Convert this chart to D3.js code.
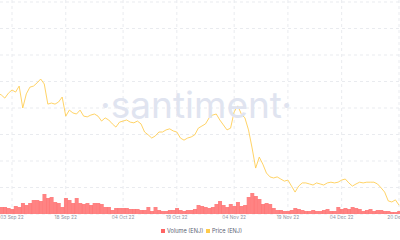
<!DOCTYPE html>
<html lang="en">
<head>
<meta charset="UTF-8">
<title>ENJ price and volume</title>
<script src="https://cdn.jsdelivr.net/npm/d3@7"></script>
<style>
  body { margin: 0; background: #fff; }
  svg { display: block; font-family: Inter, "Noto Sans", sans-serif; }
</style>
</head>
<body>
<svg width="400" height="240"></svg>
<script>
// daily series, first point 30 Aug 2022
const startDay = Date.UTC(2022, 7, 30)
const price = [
  0.542, 0.537, 0.528, 0.542, 0.551, 0.545, 0.562, 0.500, 0.540, 0.559,
  0.562, 0.571, 0.582, 0.568, 0.511, 0.514, 0.511, 0.517, 0.531, 0.477,
  0.494, 0.486, 0.483, 0.494, 0.477, 0.475, 0.480, 0.483, 0.477, 0.463,
  0.472, 0.466, 0.455, 0.446, 0.460, 0.463, 0.466, 0.460, 0.458, 0.463,
  0.455, 0.432, 0.424, 0.415, 0.421, 0.432, 0.432, 0.438, 0.441, 0.435,
  0.432, 0.415, 0.409, 0.415, 0.418, 0.424, 0.443, 0.449, 0.455, 0.472,
  0.480, 0.483, 0.466, 0.452, 0.438, 0.443, 0.489, 0.506, 0.483, 0.472,
  0.438, 0.387, 0.330, 0.361, 0.341, 0.316, 0.305, 0.302, 0.305, 0.299,
  0.293, 0.296, 0.279, 0.262, 0.279, 0.288, 0.288, 0.285, 0.282, 0.288,
  0.285, 0.282, 0.288, 0.290, 0.288, 0.290, 0.296, 0.299, 0.288, 0.279,
  0.285, 0.290, 0.288, 0.290, 0.290, 0.290, 0.285, 0.274, 0.262, 0.237,
  0.234, 0.240, 0.225
]
// volume, millions of ENJ
const volume = [
  7, 7, 7, 6, 5, 8, 7, 11, 9, 11,
  14, 14, 13, 20, 16, 17, 12, 11, 7, 16,
  14, 11, 16, 11, 10, 11, 9, 11, 11, 10,
  7, 7, 4, 6, 6, 6, 6, 5, 5, 5,
  4, 4, 7, 3, 7, 4, 3, 3, 4, 4,
  6, 4, 3, 4, 4, 5, 9, 8, 7, 6,
  7, 10, 13, 9, 7, 10, 8, 12, 8, 9,
  17, 21, 18, 15, 10, 11, 10, 6, 4, 4,
  3, 3, 4, 6, 5, 4, 3, 3, 4, 3,
  3, 4, 5, 3, 3, 7, 5, 6, 5, 7,
  6, 5, 3, 4, 5, 3, 4, 4, 3, 3,
  2, 2, 3
]
const tickDays = [
  Date.UTC(2022, 8, 3), Date.UTC(2022, 8, 18), Date.UTC(2022, 9, 4), Date.UTC(2022, 9, 19),
  Date.UTC(2022, 10, 4), Date.UTC(2022, 10, 19), Date.UTC(2022, 11, 4), Date.UTC(2022, 11, 20)
]
const priceGrid = [0.2, 0.275, 0.35, 0.425, 0.5, 0.575, 0.65, 0.725, 0.8]
const legendItems = ['Volume (ENJ)', 'Price (ENJ)']
const colors = ['#ff6464', '#ffcb4c']

const dates = price.map((d, i) => new Date(startDay + i * 864e5))

const svg = d3.select('svg')
const x = d3.scaleUtc()
  .domain([new Date(tickDays[0]), new Date(tickDays[7])])
  .range([12, 399])
const y = d3.scaleLinear().domain([0.2, 0.8]).range([214, 2])
const yv = d3.scaleLinear().domain([0, 212]).range([214, 2])

const plot = svg.append('g')

// grid
plot.append('g').selectAll('line')
  .data(priceGrid)
  .join('line')
  .attr('x1', 0).attr('x2', 400)
  .attr('y1', d => y(d)).attr('y2', d => y(d))
  .attr('stroke', '#e9ebef').attr('stroke-dasharray', '3,3')

plot.append('g').selectAll('line')
  .data(tickDays)
  .join('line')
  .attr('x1', d => x(new Date(d))).attr('x2', d => x(new Date(d)))
  .attr('y1', 0).attr('y2', 214)
  .attr('stroke', '#e9ebef').attr('stroke-dasharray', '3,3')

// watermark
svg.append('text')
  .attr('x', 196).attr('y', 118)
  .attr('text-anchor', 'middle')
  .attr('font-size', 37)
  .attr('fill', '#e0e4f0')
  .text('\u00b7santiment\u00b7')

// volume bars
const bw = x(new Date(startDay + 864e5)) - x(new Date(startDay))
plot.append('g').selectAll('rect')
  .data(volume)
  .join('rect')
  .attr('x', (d, i) => x(dates[i]) - bw / 2)
  .attr('width', bw + 0.4)
  .attr('y', d => yv(d))
  .attr('height', d => yv(0) - yv(d))
  .attr('fill', colors[0])
  .attr('opacity', 0.8)

// price line
plot.append('path')
  .datum(price)
  .attr('fill', 'none')
  .attr('stroke', colors[1])
  .attr('stroke-width', 1)
  .attr('stroke-opacity', 0.85)
  .attr('d', d3.line().x((d, i) => x(dates[i])).y(d => y(d)))

// x axis labels
const fmt = d3.utcFormat('%d %b %y')
svg.append('g').selectAll('text')
  .data(tickDays)
  .join('text')
  .attr('x', d => x(new Date(d)))
  .attr('y', 219)
  .attr('text-anchor', 'middle')
  .attr('font-size', 4.8)
  .attr('fill', '#8d94a3')
  .text(d => fmt(new Date(d)))

// legend
const leg = svg.append('g').attr('transform', 'translate(161,231)')
const items = leg.selectAll('g')
  .data(legendItems)
  .join('g')
  .attr('transform', (d, i) => 'translate(' + (i * 45) + ',0)')
items.append('rect')
  .attr('x', 0).attr('y', -2).attr('width', 4).attr('height', 4)
  .attr('fill', (d, i) => colors[i])
items.append('text')
  .attr('x', 6).attr('y', 2)
  .attr('font-size', 5.6)
  .attr('fill', '#5b6272')
  .text(d => d)
</script>
</body>
</html>
